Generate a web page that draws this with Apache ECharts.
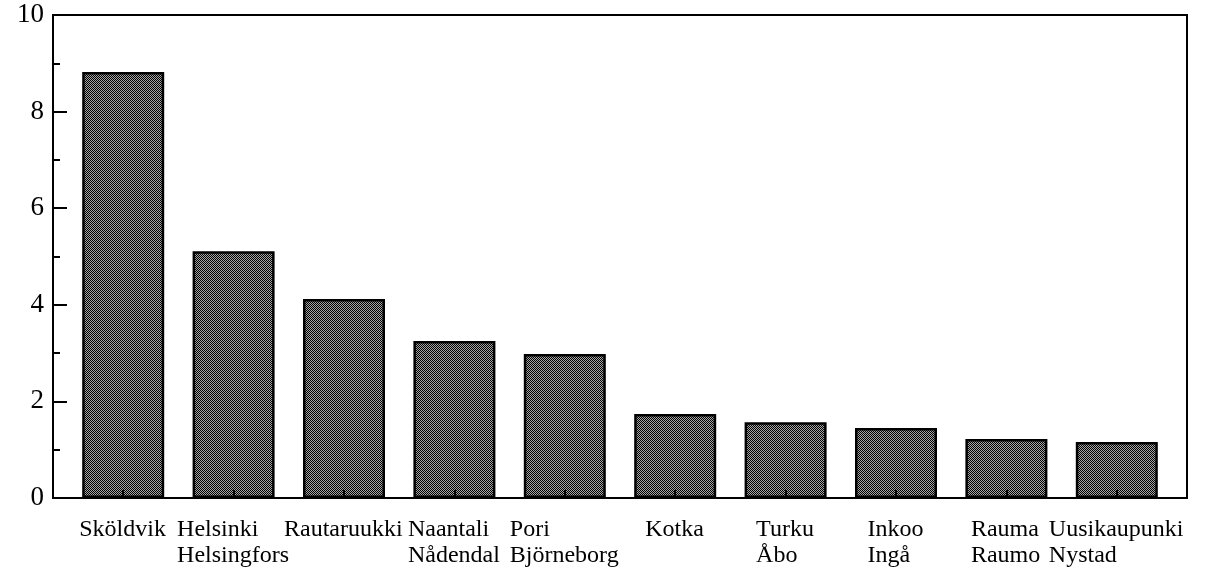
<!DOCTYPE html>
<html>
<head>
<meta charset="utf-8">
<script src="https://cdn.jsdelivr.net/npm/echarts@6/dist/echarts.min.js"></script>
<style>
html,body{margin:0;padding:0;background:#fff;}
#c{width:1218px;height:572px;}
</style>
</head>
<body>
<div id="c"></div>
<script>
// Data
var line1 = ['Sköldvik','Helsinki','Rautaruukki','Naantali','Pori','Kotka','Turku','Inkoo','Rauma','Uusikaupunki'];
var line2 = ['','Helsingfors','','Nådendal','Björneborg','','Åbo','Ingå','Raumo','Nystad'];
var values = [8.82, 5.11, 4.12, 3.25, 2.98, 1.74, 1.57, 1.45, 1.22, 1.16];
var yTicks = [0, 2, 4, 6, 8, 10];

var FONT = '"Liberation Serif", "Times New Roman", serif';
var FS = 24;

// checker pattern for bars
var pat = document.createElement('canvas');
pat.width = 2; pat.height = 2;
var pc = pat.getContext('2d');
pc.fillStyle = '#a6a6a6'; pc.fillRect(0,0,2,2);
pc.fillStyle = '#000'; pc.fillRect(0,0,1,1); pc.fillRect(1,1,1,1);

// measure label widths to left-align lines within centered block
var mc = document.createElement('canvas').getContext('2d');
mc.font = FS + 'px ' + FONT;
var rich = {};
var cats = line1.map(function(t, i){
  var w = Math.max(mc.measureText(t).width, mc.measureText(line2[i]).width);
  rich['w' + i] = {width: Math.ceil(w) + 1, align: 'left', fontFamily: FONT, fontSize: FS, color: '#000', lineHeight: 26};
  return t + '|' + line2[i];
});

var chart = echarts.init(document.getElementById('c'), null, {renderer: 'canvas'});
chart.setOption({
  animation: false,
  backgroundColor: '#fff',
  grid: [
    {left: 53, right: 31, top: 15, bottom: 74, show: true, borderColor: '#000', borderWidth: 2, backgroundColor: 'transparent'},
    {left: 68, right: 46, top: 15, bottom: 74}
  ],
  xAxis: [
    {gridIndex: 0, type: 'category', data: cats, show: false},
    {gridIndex: 1, type: 'category', data: cats, z: 3,
      axisLine: {show: false},
      axisTick: {show: true, inside: true, length: 8, alignWithLabel: true, lineStyle: {color: '#000', width: 2}},
      axisLabel: {
        margin: 19, interval: 0,
        formatter: function(v, i){
          var p = v.split('|');
          return p[1] ? '{w' + i + '|' + p[0] + '}\n{w' + i + '|' + p[1] + '}' : '{w' + i + '|' + p[0] + '}';
        },
        rich: rich
      }
    }
  ],
  yAxis: [
    {gridIndex: 0, type: 'value', min: yTicks[0], max: yTicks[yTicks.length-1], interval: 2,
      axisLine: {show: true, lineStyle: {color: '#000', width: 2}},
      axisTick: {show: true, inside: true, length: 14, lineStyle: {color: '#000', width: 2}},
      minorTick: {show: true, splitNumber: 2, length: 7, lineStyle: {color: '#000', width: 2}},
      splitLine: {show: false},
      axisLabel: {margin: 9, fontFamily: FONT, fontSize: 27, color: '#000'}
    },
    {gridIndex: 1, type: 'value', min: yTicks[0], max: yTicks[yTicks.length-1], interval: 2, show: false}
  ],
  series: [{
    type: 'bar',
    xAxisIndex: 1, yAxisIndex: 1,
    data: values,
    barWidth: 82,
    itemStyle: {color: {image: pat, repeat: 'repeat'}, borderColor: '#000', borderWidth: 2.5}
  }]
});
</script>
</body>
</html>
